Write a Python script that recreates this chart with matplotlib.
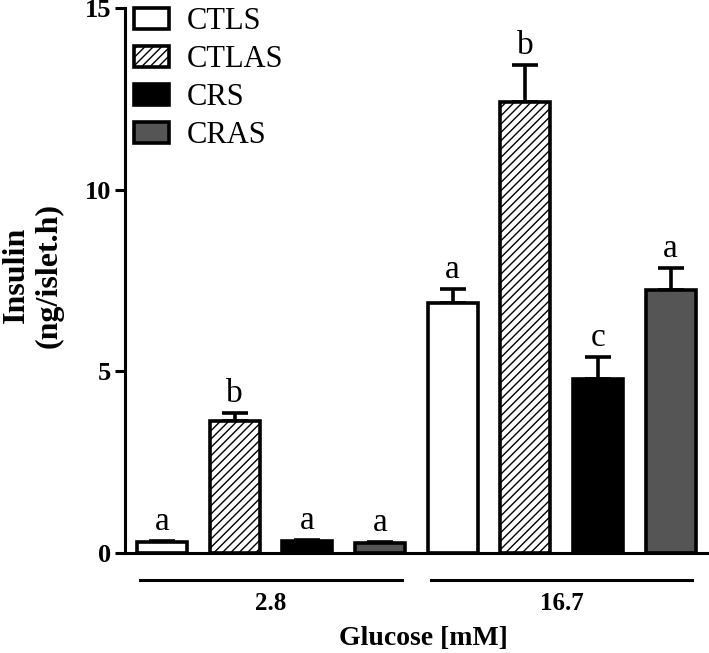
import matplotlib
matplotlib.use("Agg")
import matplotlib.pyplot as plt
import matplotlib.transforms as mtransforms
from matplotlib.patches import Patch

plt.rcParams['font.family'] = ['Liberation Serif', 'DejaVu Serif']
plt.rcParams['hatch.linewidth'] = 1.0

series = ["CTLS", "CTLAS", "CRS", "CRAS"]
glucose = ["2.8", "16.7"]
means_28 = [0.30, 3.64, 0.33, 0.27]
errs_28 = [0.03, 0.22, 0.03, 0.03]
means_167 = [6.89, 12.42, 4.79, 7.24]
errs_167 = [0.38, 1.02, 0.61, 0.61]
letters_28 = ["a", "b", "a", "a"]
letters_167 = ["a", "b", "c", "a"]
yticks = [0, 5, 10, 15]

faces = ["white", "white", "black", "#555555"]
hatches = [None, "////", None, None]

fig = plt.figure(figsize=(7.09, 6.53), dpi=100)
ax = fig.add_axes([125/709, 100/653, 582/709, 545/653])

lw = 2.6
means = means_28 + means_167
errs = errs_28 + errs_167
letters = letters_28 + letters_167
for i, (m, e, l) in enumerate(zip(means, errs, letters)):
    k = i % 4
    ax.bar(i, m, width=0.69, color=faces[k], edgecolor="black",
           linewidth=lw, hatch=hatches[k], zorder=2)
    ax.errorbar(i, m, yerr=[[0], [e]], fmt="none", ecolor="black",
                elinewidth=lw, capsize=9.5, capthick=lw, zorder=1)
    ax.annotate(l, (i, m + e), xytext=(0, 3), textcoords="offset points",
                ha="center", va="bottom", fontsize=24)

ax.set_xlim(-0.51, 7.5)
ax.set_ylim(0, 15)
ax.set_yticks(yticks)
ax.set_yticklabels([str(t) for t in yticks], fontsize=19, fontweight="bold")
ax.set_xticks([])
for s in ["top", "right"]:
    ax.spines[s].set_visible(False)
ax.spines["left"].set_linewidth(2.2)
ax.spines["bottom"].set_linewidth(2.2)
ax.tick_params(axis="y", length=7, width=2.2, pad=3)

trans = mtransforms.blended_transform_factory(ax.transData, ax.transAxes)
for g, (x0, x1) in enumerate([(-0.3, 3.3), (3.7, 7.3)]):
    ax.plot([x0, x1], [-0.05, -0.05], color="black", lw=2.2,
            transform=trans, clip_on=False)
    ax.text((x0 + x1) / 2, -0.092, glucose[g], transform=trans,
            ha="center", va="center", fontsize=18, fontweight="bold")
ax.text(3.6, -0.157, "Glucose [mM]", transform=trans, ha="center",
        va="center", fontsize=20, fontweight="bold")

fig.text(33/709, 1 - 275/653, "Insulin\n(ng/islet.h)", rotation=90,
         ha="center", va="center", fontsize=23, fontweight="bold",
         linespacing=1.15)

handles = [Patch(facecolor=faces[k], edgecolor="black", linewidth=lw,
                 hatch=hatches[k], label=series[k]) for k in range(4)]
leg = ax.legend(handles=handles, loc="upper left",
                bbox_to_anchor=(0.015, 1.001), frameon=False, fontsize=22,
                handlelength=1.15, handleheight=0.7, handletextpad=0.6,
                labelspacing=0.29, borderpad=0, borderaxespad=0)

fig.savefig("out.png", dpi=100)
